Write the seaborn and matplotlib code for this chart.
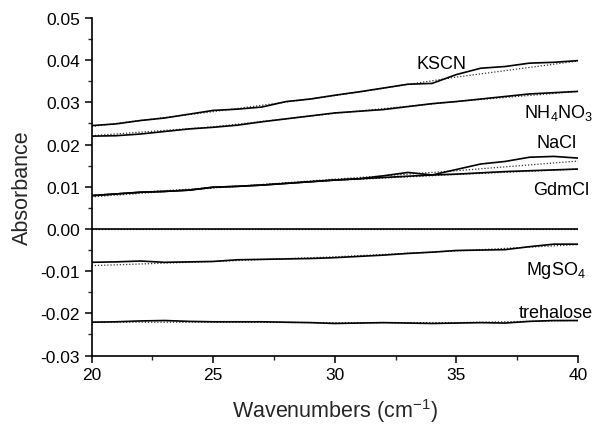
import matplotlib
matplotlib.use("Agg")
import matplotlib.pyplot as plt
import seaborn as sns
import pandas as pd
from matplotlib.ticker import MultipleLocator, FormatStrFormatter

# ---- data ----
wavenumbers = [20, 21, 22, 23, 24, 25, 26, 27, 28, 29, 30,
               31, 32, 33, 34, 35, 36, 37, 38, 39, 40]

kscn = [0.0245, 0.0249, 0.0257, 0.0263, 0.0272, 0.0281, 0.0284, 0.0289, 0.0302, 0.0308, 0.0317,
        0.0325, 0.0334, 0.0343, 0.0345, 0.0366, 0.0381, 0.0385, 0.0393, 0.0395, 0.0399]
nh4no3 = [0.0220, 0.0221, 0.0225, 0.0231, 0.0237, 0.0241, 0.0246, 0.0254, 0.0261, 0.0268, 0.0275,
          0.0279, 0.0283, 0.0290, 0.0297, 0.0302, 0.0308, 0.0314, 0.0320, 0.0323, 0.0326]
nacl = [0.0079, 0.0083, 0.0087, 0.0089, 0.0092, 0.0099, 0.0101, 0.0104, 0.0108, 0.0112, 0.0116,
        0.0119, 0.0126, 0.0134, 0.0128, 0.0141, 0.0154, 0.0160, 0.0170, 0.0172, 0.0168]
gdmcl = [0.0079, 0.0083, 0.0087, 0.0089, 0.0092, 0.0099, 0.0101, 0.0104, 0.0108, 0.0112, 0.0116,
         0.0119, 0.0122, 0.0125, 0.0128, 0.0130, 0.0133, 0.0136, 0.0138, 0.0140, 0.0142]
zero = [0.0] * 21
mgso4 = [-0.0079, -0.0078, -0.0076, -0.0079, -0.0078, -0.0077, -0.0073, -0.0072, -0.0071, -0.0070, -0.0068,
         -0.0065, -0.0062, -0.0058, -0.0055, -0.0051, -0.0050, -0.0049, -0.0042, -0.0036, -0.0036]
trehalose = [-0.0221, -0.0220, -0.0218, -0.0217, -0.0219, -0.0220, -0.0220, -0.0220, -0.0221, -0.0222, -0.0224,
             -0.0223, -0.0222, -0.0223, -0.0224, -0.0223, -0.0222, -0.0223, -0.0219, -0.0217, -0.0217]

# fitted curves (dotted)
fit_x = [20, 25, 30, 35, 40]
kscn_fit = [0.0243, 0.0278, 0.0316, 0.0360, 0.0398]
nh4no3_fit = [0.0221, 0.0242, 0.0274, 0.0302, 0.0326]
nacl_fit = [0.0076, 0.0097, 0.0118, 0.0138, 0.0161]
gdmcl_fit = [0.0080, 0.0098, 0.0115, 0.0129, 0.0142]
zero_fit = [0.0, 0.0, 0.0, 0.0, 0.0]
mgso4_fit = [-0.0087, -0.0077, -0.0066, -0.0052, -0.0037]
trehalose_fit = [-0.0221, -0.0221, -0.0222, -0.0222, -0.0217]

labels = ["KSCN", r"NH$_4$NO$_3$", "NaCl", "GdmCl", r"MgSO$_4$", "trehalose"]
label_x = [34.4, 39.2, 39.1, 39.3, 39.1, 39.1]
label_y = [0.0392, 0.0278, 0.0204, 0.0093, -0.0097, -0.0197]

x_ticks = [20, 25, 30, 35, 40]
y_ticks = [-0.03, -0.02, -0.01, 0.00, 0.01, 0.02, 0.03, 0.04, 0.05]

# ---- style ----
sns.set_style("ticks")
plt.rcParams["font.family"] = ["Liberation Sans", "DejaVu Sans"]
plt.rcParams["mathtext.fontset"] = "custom"
plt.rcParams["mathtext.rm"] = "Liberation Sans"
plt.rcParams["mathtext.it"] = "Liberation Sans:italic"
plt.rcParams["axes.unicode_minus"] = False

fig = plt.figure(figsize=(5.99, 4.27), dpi=100)
ax = fig.add_axes([0.153, 0.165, 0.812, 0.7905])

solid = pd.DataFrame({"x": wavenumbers})
for name, vals in [("kscn", kscn), ("nh4no3", nh4no3), ("nacl", nacl), ("gdmcl", gdmcl),
                   ("zero", zero), ("mgso4", mgso4), ("trehalose", trehalose)]:
    solid[name] = vals
fits = pd.DataFrame({"x": fit_x})
for name, vals in [("kscn", kscn_fit), ("nh4no3", nh4no3_fit), ("nacl", nacl_fit), ("gdmcl", gdmcl_fit),
                   ("zero", zero_fit), ("mgso4", mgso4_fit), ("trehalose", trehalose_fit)]:
    fits[name] = vals

for name in ["kscn", "nh4no3", "nacl", "gdmcl", "zero", "mgso4", "trehalose"]:
    sns.lineplot(data=fits, x="x", y=name, ax=ax, color="#333333", lw=0.9,
                 linestyle=(0, (1, 1.5)))
    sns.lineplot(data=solid, x="x", y=name, ax=ax, color="black", lw=1.2)

for t, lx, ly in zip(labels, label_x, label_y):
    ax.text(lx, ly, t, ha="center", va="center", fontsize=13, color="black")

ax.set_xlim(20, 40)
ax.set_ylim(-0.03, 0.05)
ax.set_xticks(x_ticks)
ax.set_yticks(y_ticks)
ax.yaxis.set_major_formatter(FormatStrFormatter("%.2f"))
ax.xaxis.set_minor_locator(MultipleLocator(2.5))
ax.yaxis.set_minor_locator(MultipleLocator(0.005))
ax.tick_params(axis="both", which="major", direction="out", length=5, width=1.1,
               labelsize=12.5, colors="black")
ax.tick_params(axis="both", which="minor", direction="out", length=3, width=1.0)
for s in ["left", "bottom"]:
    ax.spines[s].set_linewidth(1.2)
    ax.spines[s].set_color("black")
sns.despine(ax=ax)

ax.set_xlabel(r"Wavenumbers (cm$^{-1}$)", fontsize=15.5, labelpad=10)
ax.set_ylabel("Absorbance", fontsize=15.5, labelpad=5)

fig.savefig("out.png", dpi=100)
